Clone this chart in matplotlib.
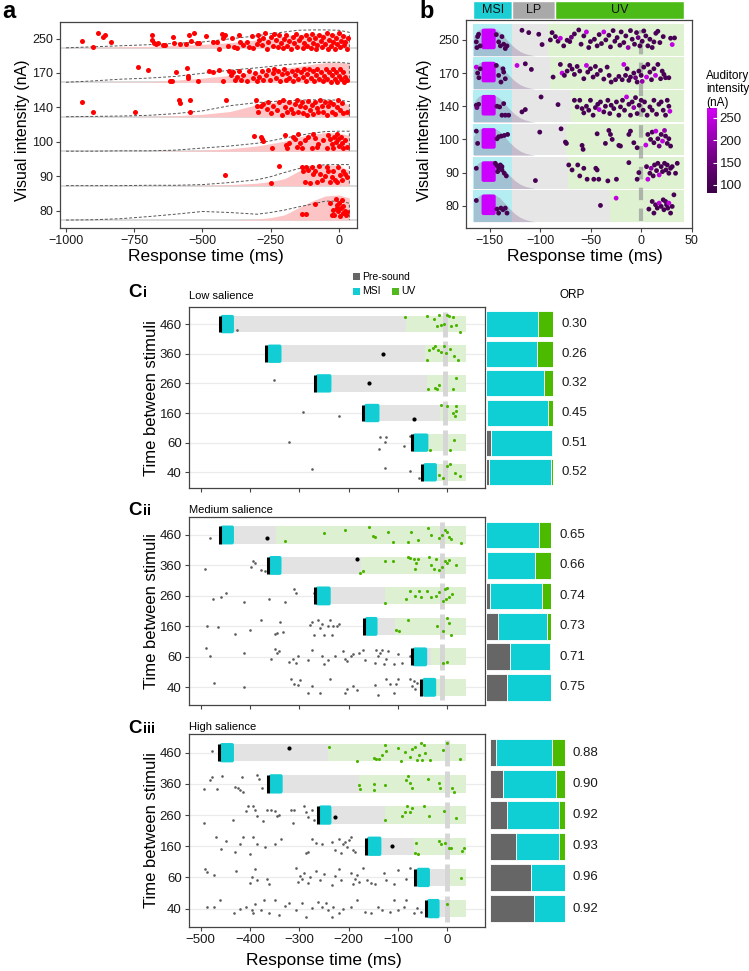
import numpy as np
import matplotlib
matplotlib.use('Agg')
import matplotlib.pyplot as plt
from matplotlib.patches import Rectangle, FancyBboxPatch
from matplotlib.colors import LinearSegmentedColormap, Normalize
from matplotlib.cm import ScalarMappable

plt.rcParams['font.family'] = ['Liberation Sans', 'DejaVu Sans']

# ---------------- panel a: ridges of response times ----------------
a_rows = ['80', '90', '100', '140', '170', '250']
a_grid = [-1000, -900, -800, -700, -600, -500, -400, -300, -250, -200, -150, -100, -50, 0, 38]
a_line_h = [
    [0, .01, .04, .10, .17, .25, .22, .17, .22, .29, .38, .46, .55, .55, .49],
    [0, 0, 0, .01, .01, .03, .09, .17, .26, .38, .49, .55, .61, .61, .61],
    [0, 0, .01, .01, .03, .09, .15, .23, .30, .38, .45, .52, .57, .58, .58],
    [0, .01, .02, .04, .09, .17, .32, .41, .44, .46, .48, .49, .49, .48, .44],
    [0, .04, .09, .12, .17, .26, .35, .42, .46, .51, .54, .57, .58, .58, .55],
    [0, .03, .06, .09, .13, .17, .26, .35, .41, .46, .51, .52, .52, .51, .45],
]
a_fill_h = [
    [0, 0, 0, 0, 0, 0, 0, .03, .07, .15, .35, .55, .70, .73, .64],
    [0, 0, 0, 0, 0, .01, .03, .07, .12, .20, .41, .55, .61, .58, .44],
    [0, 0, 0, 0, .01, .03, .07, .15, .22, .29, .41, .49, .54, .52, .46],
    [0, 0, 0, .01, .03, .07, .15, .35, .41, .44, .45, .45, .45, .44, .35],
    [0, 0, .01, .01, .06, .12, .20, .29, .35, .41, .46, .52, .57, .58, .55],
    [0, .01, .03, .04, .07, .10, .15, .23, .29, .35, .39, .41, .41, .41, .35],
]
a_pts_x = [
    [-137, -121, -88, -33, -21, -17, -11, -6, -2, 1, 4, 6, 10, 13, 16, 22, 26, 31, -9, -25],
    [-416, -220, -250, -137, -131, -125, -121, -112, -106, -100, -94, -88, -82, -72, -63, -51, -39,
     -33, -27, -21, -15, -9, -2, 4, 10, 16, 22, 28, -70, -45],
    [-310, -286, -281, -277, -247, -198, -194, -189, -182, -167, -161, -155, -143, -137, -125, -112,
     -94, -88, -82, -76, -39, -33, -27, -21, -17, -11, -6, -2, 1, 6, 10, 16, 22, 31, -45, -57, -100, -149],
    [-943, -900, -747, -586, -582, -546, -546, -415, -304, -302, -298, -286, -277, -265, -259, -250,
     -241, -228, -219, -210, -204, -198, -189, -182, -176, -167, -161, -155, -149, -143, -137, -131,
     -125, -118, -112, -106, -100, -94, -88, -82, -76, -70, -63, -57, -51, -45, -39, -33, -27, -21,
     -15, -9, -2, 4, 10, 16, 31],
    [-735, -701, -619, -613, -597, -558, -554, -552, -515, -475, -460, -440, -426, -402, -397, -387,
     -381, -372, -365, -360, -350, -338, -328, -316, -308, -299, -292, -283, -277, -267, -259, -253,
     -243, -238, -231, -222, -216, -210, -201, -194, -189, -182, -173, -167, -161, -155, -149, -140,
     -133, -128, -121, -116, -109, -104, -96, -92, -84, -79, -72, -67, -60, -55, -48, -43, -35, -31,
     -26, -21, -15, -11, -6, -1, 4, 9, 13, 18, 23, 31],
    [-943, -900, -884, -863, -857, -835, -686, -684, -678, -670, -662, -643, -637, -609, -603, -582,
     -562, -548, -542, -531, -521, -512, -487, -460, -448, -438, -427, -424, -418, -405, -393, -383,
     -375, -365, -363, -350, -338, -328, -320, -314, -302, -298, -292, -283, -277, -271, -265, -259,
     -250, -243, -238, -231, -225, -219, -214, -206, -201, -194, -189, -182, -177, -170, -165, -158,
     -153, -147, -139, -133, -128, -121, -116, -109, -104, -98, -94, -88, -84, -79, -72, -67, -63,
     -57, -51, -45, -42, -35, -31, -27, -21, -16, -11, -6, -1, 4, 9, 13, 18, 23, 28, 33],
]
a_pts_dy = [
    [.19, .19, .47, .51, .30, .15, .61, .44, .25, .51, .13, .35, .59, .20, .40, .25, .15, .22, .35, .15],
    [.30, .56, .09, .54, .43, .11, .54, .44, .08, .54, .35, .43, .11, .56, .15, .27, .43, .11, .25,
     .43, .17, .11, .54, .30, .15, .43, .35, .25, .35, .54],
    [.44, .42, .34, .30, .10, .46, .17, .10, .24, .42, .34, .13, .24, .08, .32, .42, .51, .37, .13,
     .22, .46, .34, .20, .08, .42, .27, .49, .34, .15, .40, .24, .08, .32, .13, .08, .32, .08, .49],
    [.42, .15, .13, .49, .40, .49, .15, .49, .49, .32, .15, .30, .38, .22, .44, .11, .32, .20, .42,
     .06, .49, .28, .13, .44, .22, .11, .38, .49, .15, .32, .44, .11, .28, .06, .47, .20, .35, .09,
     .44, .24, .13, .49, .32, .15, .42, .06, .30, .44, .15, .38, .09, .28, .49, .20, .40, .11, .15],
    [.44, .36, .05, .05, .29, .41, .19, .13, .05, .34, .29, .37, .05, .34, .22, .29, .07, .16, .34,
     .07, .22, .05, .32, .13, .26, .05, .16, .32, .07, .22, .37, .07, .26, .39, .13, .32, .05, .24,
     .39, .07, .28, .13, .34, .05, .22, .36, .09, .30, .16, .40, .03, .24, .39, .13, .32, .05, .22,
     .38, .09, .29, .03, .18, .40, .09, .30, .01, .20, .38, .09, .30, .01, .18, .40, .09, .30, .01,
     .16, .07],
    [.21, .03, .42, .32, .36, .18, .38, .22, .15, .10, .14, .09, .08, .31, .13, .11, .12, .36, .19,
     .43, .15, .15, .34, .18, .17, -.04, .41, .29, .38, .04, .28, .02, -.01, .38, .17, .09, .16, .03,
     .33, 0, .12, .38, .24, .08, .30, .42, -.02, .17, .32, .06, .40, .22, .03, .38, .13, -.01, .26,
     .38, .05, .20, -.02, .32, .13, .40, .03, .23, .32, -.01, .15, .38, .05, .26, 0, .40, .15, .29,
     -.02, .07, .38, .20, .03, .32, .12, .43, -.02, .24, .05, .36, .16, -.02, .30, .10, .42, .03,
     .21, .34, .07, .17, -.02, .29],
]

# ---------------- panel b: MSI / LP / UV ----------------
b_rows = ['80', '90', '100', '140', '170', '250']
b_strip_lab = ['MSI', 'LP', 'UV']
b_strip_edges = [-166, -128, -85.6, 42.2]
b_msi_end = -128
b_uv_end = 42.2
b_uv_start = [-31.2, -72.8, -74.8, -69.8, -89.9, -92.2]
b_hump_x = [-166, -163, -160, -155, -150, -145, -140, -135, -130, -125, -120, -115, -110, -105]
b_hump_h = [.60, .75, .83, .87, .88, .85, .75, .58, .40, .25, .14, .07, .03, 0]
b_blob_x = [-158, -144]
b_pts_x = [
    [-163.2, -142.7, -141.1, -138.8, -136.8, -134.5, -132.8,
     -40.3, -24.8, 7.6, 10.9, 12.6, 14.2, 15.9, 17.8, 19.8, 21.8, 22.5, 24.1, 25.1, 26.4, 27.4,
     29.1, 30.7, 32.4],
    [-163.2, -144.4, -142.7, -141.1, -139.4, -137.8, -137.8, -135.5, -133.5, -142.1,
     -104.7, -71.7, -68.4, -62.8, -60.8, -56.8, -53.5, -46.9, -44.9, -43.6, -42, -33, -24.5, -12.2,
     -4, -2.3, 5.3, 6.6, 8.6, 9.9, 11.9, 13.2, 15.2, 16.5, 17.8, 19.8, 21.1, 23.1, 24.5, 25.8, 27.4,
     29.1, 30.7, 34, 35.7],
    [-163.2, -161.9, -142.7, -141.1, -138.4, -135.5, -132.2,
     -100.4, -79.3, -75, -74, -58.5, -57.5, -43.6, -35.4, -32, -30.4, -28.7, -22.1, -20.5, -12.2,
     -10.6, -7.3, -4, 4.6, 6.6, 9.3, 10.9, 12.6, 14.5, 16.5, 17.8, 19.8, 21.1, 23.1, 24.1, 25.8,
     27.4, 29.1],
    [-163.2, -162.6, -160.9, -142.7, -140.1, -137.8, -134.5, -131.2, -136.1,
     -114.7, -118, -99.1, -82.3, -66.1, -63.4, -60.8, -58.5, -56.8, -54.2, -51.9, -50.2, -47.6,
     -45.3, -43, -41.6, -40.3, -37, -35.4, -33, -31.1, -29.7, -27.1, -24.5, -22.1, -20.5, -18.5,
     -16.5, -14.5, -12.2, -10.6, -8.9, -7.3, -5.6, -4, -2, 0, 2, 3.3, 5.9, 8.6, 10.9, 12.6, 15.2,
     17.5, 19.8, 21.8, 24.1, 25.8, 27.4, 28.4],
    [-163.2, -161.9, -160.6, -159.3, -141.1, -138.8, -136.8, -136.1, -134.5, -143.4,
     -122.9, -114.7, -108.7, -87.2, -80, -78.3, -76, -73.3, -70.7, -68.4, -66.1, -63.4, -60.8,
     -56.8, -54.2, -52.9, -50.2, -47.6, -45.3, -43.6, -40.3, -37, -33.7, -31.7, -29.7, -25.4,
     -22.1, -18.8, -17.2, -15.5, -13.9, -12.2, -10.6, -7.3, -5.6, -4, -2.3, 0, 1, 2.6, 5.3, 6.6,
     8.6, 10.2, 12.6, 14.2, 16.5, 19.2, 20.8, 22.5, 24.1, 27.4],
    [-163.2, -162.6, -161.9, -160.9, -159.3, -143.4, -141.1, -139.4, -137.8, -136.1, -134.5, -132.8,
     -118, -111.3, -101.4, -98.1, -89.9, -88.2, -84.9, -82.3, -80, -76.7, -73.3, -70.7, -69.1,
     -66.1, -61.8, -59.5, -56.8, -54.2, -51.9, -50.2, -46.3, -43.6, -41.6, -39.3, -37, -35, -32,
     -30.4, -27.8, -26.1, -23.8, -21.1, -19.8, -17.2, -15.2, -12.9, -10.6, -8.9, -6.6, -4.6, -3,
     -1.3, 1, 2.6, 4.6, 6.6, 8.6, 10.9, 12.6, 14.5, 16.5, 18.5, 21.8, 29.1, 33, 30.7],
]
b_pts_dy = [
    [.16, -.10, -.22, -.07, -.12, -.07, -.22,
     .01, .23, -.10, .13, -.22, .03, -.07, .08, -.02, .18, -.12, .13, .03, -.07, .08, -.22, -.02, .33],
    [.13, .28, .21, .13, .23, .18, .08, -.02, -.10, .03,
     -.24, .23, .08, .23, -.10, .13, -.20, -.20, .13, .08, -.20, -.25, -.20, .30, -.20, 0, .18,
     -.20, -.02, .13, -.10, .23, .06, .28, -.07, .18, .03, .28, .08, .23, -.02, .13, .18, -.02, .28],
    [.25, -.12, .02, .08, .10, .12, .15,
     .22, .32, -.08, -.12, -.18, -.30, .17, -.12, .27, .15, 0, -.18, -.20, .15, .25, -.10, -.25,
     -.17, .15, 0, .22, -.10, .25, .02, -.20, .15, -.05, .27, .10, -.12, .02, -.20],
    [.03, -.04, .06, 0, -.02, -.27, -.27, -.27, .08,
     -.10, -.17, .28, .05, .18, -.02, .18, -.07, -.20, 0, -.12, .18, -.27, -.04, .06, -.10, .13,
     -.17, 0, .18, -.22, .03, -.07, .13, -.27, -.02, .18, -.12, .28, .06, -.27, .13, -.04, .26,
     -.22, .03, .18, -.12, .13, -.27, -.02, -.12, .18, -.24, .06, .13, -.12, -.27, .18, 0, -.15],
    [.18, 0, -.14, .13, -.07, -.27, .13, .03, -.17, .23,
     .23, .28, .11, -.12, .26, 0, -.07, .06, .23, .12, -.04, .20, .06, -.17, .23, .03, .13, -.12,
     .20, -.04, .08, -.18, .18, -.07, -.27, -.20, -.10, -.20, .26, -.07, .13, -.22, -.12, 0, -.14,
     -.27, .06, -.07, -.25, .18, -.12, .26, .03, -.20, .13, -.07, .26, -.17, .06, -.04, -.14, -.14],
    [-.06, -.23, .10, .17, -.18, .16, -.06, -.18, .10, -.13, -.26, -.18,
     .29, .22, .17, -.14, 0, .22, .10, -.04, .05, -.18, -.01, -.05, .08, .18, .30, -.13, .12, .24,
     -.23, -.05, .02, -.18, .16, -.11, .24, 0, .14, -.21, .28, -.04, .07, -.16, .24, -.08, .12,
     -.23, .28, .02, -.13, .22, .07, -.18, -.04, .27, .12, -.18, .02, -.23, -.06, .20, .26, -.08,
     .10, .05, .06, -.14],
]
b_pts_aud = [
    [100, 100, 100, 100, 100, 100, 100,
     100, 250, 100, 100, 100, 100, 100, 250, 100, 100, 100, 100, 100, 100, 250, 100, 100, 100],
    [100, 100, 100, 100, 100, 100, 100, 100, 100, 100,
     100, 100, 100, 100, 100, 100, 100, 100, 100, 100, 100, 100, 100, 100, 100, 100, 100, 250,
     100, 200, 100, 100, 100, 100, 250, 100, 100, 100, 100, 100, 100, 100, 100, 100, 100],
    [100, 100, 100, 100, 100, 100, 100,
     100, 100, 100, 100, 100, 100, 100, 100, 100, 100, 100, 100, 100, 100, 100, 100, 100, 250,
     100, 100, 100, 100, 250, 100, 150, 100, 250, 200, 100, 100, 100, 100],
    [100, 150, 100, 100, 100, 100, 100, 100, 100,
     100, 100, 100, 100, 100, 100, 100, 100, 100, 100, 100, 100, 100, 100, 100, 250, 100, 100,
     100, 100, 100, 100, 100, 100, 100, 100, 100, 100, 250, 100, 100, 100, 200, 100, 100, 100,
     100, 100, 100, 100, 100, 100, 100, 100, 100, 100, 100, 100, 100, 100, 250],
    [250, 100, 100, 100, 100, 100, 100, 100, 100, 100,
     250, 100, 100, 100, 100, 250, 100, 100, 100, 100, 100, 100, 100, 100, 250, 100, 100, 100,
     100, 100, 100, 100, 100, 100, 100, 100, 100, 100, 250, 100, 100, 100, 100, 100, 150, 100,
     100, 100, 200, 100, 250, 100, 100, 100, 100, 250, 100, 100, 100, 100, 100, 100],
    [100, 100, 100, 100, 100, 100, 100, 100, 100, 100, 100, 100,
     100, 100, 100, 100, 100, 100, 100, 100, 250, 100, 100, 100, 150, 100, 100, 100, 100, 250,
     100, 100, 100, 100, 100, 100, 250, 100, 100, 100, 100, 100, 100, 100, 100, 100, 100, 200,
     100, 100, 100, 100, 150, 100, 100, 100, 100, 100, 100, 100, 100, 100, 100, 100, 100, 100,
     100, 250],
]

# ---------------- panel c: time between stimuli ----------------
c_rows = ['460', '360', '260', '160', '60', '40']
c_band_end = 37
c_titles = ['Low salience', 'Medium salience', 'High salience']
c_roman = ['i', 'ii', 'iii']
c_vline = [-5.5, -11, -1.5]

ci_onset = [-461.8, -367, -269, -170.8, -72.7, -51.3]
ci_msi_end = [-432.5, -336, -234.8, -137.5, -38.7, -21.3]
ci_uv_start = [-84.6, -45, -41.1, -15, -38.7, -21.3]
ci_dot_x = [np.nan, -130.4, -158.1, -68.7, np.nan, np.nan]
ci_dot_dy = [0, 0, 0, -.19, 0, 0]
ci_gray_x = [[-426], [], [-351.1], [-292.5, -219],
             [-321.8, -138.3, -136, -126.5, -124.1, -88.5, -76.6], [-274.3, -125.7, -76.6, -58.5]]
ci_gray_dy = [[-.19], [], [.11], [.02, -.09], [.02, -.20, .19, .02, .19, -.12, .21], [.11, .13, .06, -.20]]
ci_green_x = [[-86.1, -41.1, -27.6, -21.3, -17.3, -13.4, -7.1, -1.5, 2.4, 6.4, 10.3, 16.7, 26.2],
              [-41.1, -37.1, -29.2, -25.3, -19.7, -13.4, -7.9, -3.1, 4.8, 12.7, 22.2],
              [-39.5, -25.3, -17.3, -21.3, 10.3, 16.7],
              [-13.4, 0, 10.3, 16.7, 18.2, 14.3],
              [-35.5, 12.7, 4.8],
              [-17.3, -1.5, 14.3, 4.8, 26.2, -9.4]]
ci_green_dy = [[.24, .28, .17, -.08, .31, -.02, .01, .31, .26, -.08, .24, -.02, -.28],
               [-.20, .11, .20, .25, .13, .06, .25, .02, .17, -.09, -.20],
               [-.18, -.15, -.07, -.20, -.20, .18],
               [.26, .22, 0, .25, .06, -.11],
               [-.24, .10, -.26],
               [-.09, .21, -.01, .28, -.11, -.20]]
ci_pre = [0, 0, 0, .02, .08, .04]
ci_msi = [.78, .76, .87, .91, .91, .93]
ci_uv = [.22, .24, .13, .07, .01, .03]
ci_orp = ['0.30', '0.26', '0.32', '0.45', '0.51', '0.52']

cii_onset = [-461.8, -363.7, -268.8, -169.2, -72.7, -52.9]
cii_msi_end = [-432.5, -336, -236.4, -141.5, -41.1, -22.9]
cii_uv_start = [-347.1, -175.5, -126.5, -106.7, -33.1, -22.9]
cii_dot_x = [-365.3, -183.4, np.nan, np.nan, np.nan, np.nan]
cii_dot_dy = [-.09, .20, 0, 0, 0, 0]
cii_gray_x = [
    [-481.5],
    [-491.8, -398.5, -393, -390.6, -377.2, -369.2],
    [-474.4, -457.8, -448.3, -412.7, -361.3, -329.7, -309.9, -306, -270.4],
    [-487.9, -465.7, -430.1, -400.9, -377.2, -349.5, -345.5, -340, -333.7, -278.3, -274.3, -270.4,
     -262.5, -258.5, -254.6, -250.6, -242.7, -238.8, -234.8, -230.9, -223, -219],
    [-489.4, -481.5, -412.7, -357.4, -349.5, -345.5, -341.6, -321.8, -313.9, -306, -302, -282.3,
     -274.3, -254.6, -250.6, -242.7, -226.9, -211.1, -207.1, -203.2, -195.3, -191.3, -179.5, -171.5,
     -167.6, -147.8, -143.9, -139.9, -136, -132, -128.1, -124.1, -120.1, -108.3, -100.4, -92.5, -76.6],
    [-472.1, -412.7, -317.8, -309.9, -302, -298.1, -282.3, -274.3, -258.5, -238.8, -207.1, -203.2,
     -191.3, -183.4, -147.8, -139.9, -124.1, -116.2, -108.3, -104.3, -100.4, -76.6, -72.7, -68.7,
     -64.8, -60.8],
]
cii_gray_dy = [
    [-.11],
    [-.13, -.04, .14, .09, -.15, -.18],
    [-.11, -.02, .11, -.20, -.09, -.20, .24, .11, .09],
    [0, -.02, -.24, -.13, .22, -.24, -.22, .13, -.20, .05, .13, -.27, .22, -.05, .09, -.27, 0, .22,
     -.27, 0, 0, .09],
    [.29, .04, .13, -.07, .26, .13, .18, -.17, -.07, -.20, .04, -.09, .24, .04, -.25, -.09, .02, .18,
     -.07, -.14, .02, .08, .13, .22, -.09, -.20, .22, .04, .13, .24, -.25, -.07, .18, -.25, .11, -.20, .04],
    [.15, .02, .28, .12, .08, .25, -.18, .05, -.18, .28, -.18, -.05, .05, -.08, .08, -.25, .28, .10,
     -.20, .12, .28, .28, .05, .20, -.05, .15],
]
cii_green_x = [
    [-329.7, -250.6, -207.1, -159.7, -150.2, -147.8, -120.1, -109.9, -80.6, -74.3, -59.3, -38.7,
     -33.1, -17.3, -11.8, -5.5, -1.5, 2.4, 6.4, 27.7],
    [-177.1, -171.5, -125.7, -109.9, -80.6, -75.1, -68.7, -63.2, -59.3, -64.8, -37.1, -33.1, -27.6,
     -23.7, -17.3, -11.8, -5.5, 0, 2.4, 18.2],
    [-126.5, -84.6, -76.6, -64.8, -56.9, -52.9, -41.1, -33.1, -23.7, -17.3, -9.4, -5.5, -1.5, 2.4, 8.8, -3.9],
    [-104.3, -98.8, -80.6, -21.3, -9.4, -1.5, 4, 8],
    [-9.4, -1.5],
    [],
]
cii_green_dy = [
    [-.20, .05, .16, .25, -.03, -.08, .11, -.22, -.22, .11, -.18, .22, 0, -.11, 0, .16, .11, -.05, -.14, -.25],
    [-.26, -.18, .14, .14, .28, .25, .22, .09, .20, -.11, .28, 0, -.11, .20, -.15, -.04, .14, .09, .17, 0],
    [-.24, -.09, .16, 0, .16, -.02, .16, -.05, 0, .13, -.16, .22, .27, -.02, .05, -.11],
    [-.11, -.16, .20, .02, -.16, .27, .11, -.27],
    [-.20, -.17],
    [],
]
cii_pre = [0, .02, .07, .19, .37, .33]
cii_msi = [.81, .74, .79, .75, .62, .67]
cii_uv = [.19, .24, .14, .06, .01, 0]
cii_orp = ['0.65', '0.66', '0.74', '0.73', '0.71', '0.75']

ciii_onset = [-463.4, -363.7, -262.5, -165.2, -64.8, -43.5]
ciii_msi_end = [-432.5, -333.7, -234.8, -133.6, -35.5, -15.8]
ciii_uv_start = [-241.4, -179.5, -125.7, -68.7, -1.5, -1.5]
ciii_dot_x = [-321.8, np.nan, -226.9, -112.2, np.nan, np.nan]
ciii_dot_dy = [.16, 0, -.06, 0, 0, 0]
ciii_gray_x = [
    [-476],
    [-494.2, -481.5, -476, -466.5, -456.2, -430.1, -424.6, -420.6, -416.7, -415.1, -386.6, -381.1, -375.6],
    [-494.2, -434.1, -408.8, -404.8, -393, -389, -385.1, -373.2, -365.3, -357.4, -349.5, -345.5,
     -341.6, -317.8, -313.9, -309.9, -290.2, -286.2, -282.3, -274.3, -270.4],
    [-468.1, -457.8, -448.3, -430.9, -420.6, -415.1, -400.9, -393, -385.1, -369.2, -349.5, -337.6,
     -286.2, -282.3, -274.3, -266.4, -254.6, -234.8, -226.9, -219, -215, -211.1, -207.1, -203.2,
     -199.2, -195.3, -191.3, -187.4],
    [-491.8, -487.9, -472.1, -428.6, -400.9, -396.9, -389, -385.1, -365.3, -361.3, -306, -302, -298.1,
     -294.1, -290.2, -282.3, -278.3, -266.4, -258.5, -250.6, -234.8, -226.9, -219, -215, -195.3,
     -191.3, -187.4, -183.4, -179.5, -171.5, -163.6, -155.7, -147.8, -128.1, -124.1, -108.3, -100.4,
     -84.6, -76.6],
    [-487.9, -472.1, -460.2, -432.5, -420.6, -408.8, -396.9, -393, -389, -377.2, -370.8, -361.3,
     -349.5, -341.6, -329.7, -321.8, -306, -294.1, -286.2, -274.3, -262.5, -254.6, -246.7, -242.7,
     -234.8, -230.9, -219, -211.1, -195.3, -183.4, -167.6, -155.7, -139.9, -132, -116.2, -108.3,
     -100.4, -88.5, -84.6, -68.7, -60.8, -52.9],
]
ciii_gray_dy = [
    [.06],
    [-.16, .14, .21, -.16, .25, -.10, -.13, -.20, .21, -.27, .28, .16, -.13],
    [-.26, -.17, .12, .28, .28, .15, -.04, -.20, .15, .15, .12, -.04, .01, .17, -.26, .15, .28, .09,
     -.06, .17, -.15],
    [.29, -.10, .18, -.20, .07, .29, -.25, .31, .07, -.01, .07, .22, -.22, -.17, .22, .10, .07, .15,
     -.12, .22, -.22, .07, .15, -.01, .20, .31, -.12, -.20],
    [.26, .18, .07, .21, -.19, .02, .26, -.09, -.06, -.21, .29, -.14, .04, -.06, .15, -.17, 0, .21,
     -.09, .11, -.25, .04, .26, -.09, .13, -.21, -.06, .07, -.14, .29, -.09, -.17, -.21, .13, -.09,
     -.21, .24, -.06, .29],
    [.06, .06, .26, -.15, -.02, .06, -.04, -.15, .15, -.04, .28, -.15, .28, -.20, .09, .17, -.04, .19,
     -.26, .01, .22, .06, .17, -.04, -.28, .06, -.15, -.02, .04, .28, -.10, -.15, .06, -.04, -.10,
     .28, -.04, .06, .28, -.15, .01, -.10],
]
ciii_green_x = [
    [-240.3, -183.4, -149.4, -143.9, -138.3, -132, -125.7, -124.1, -100.4, -94.1, -86.1, -76.6,
     -71.1, -64.8, -60.8, -56.9, -54.5, -51.3, -47.4, -45, -35.5, -9.4, -1.5, 24.6],
    [-179.5, -177.9, -149.4, -149.4, -126.5, -84.6, -80.6, -76.6, -72.7, -38.7, -17.3, -15, 8.8, 12.7],
    [-125.7, -92.5, -87, -83, -76.6, -72.7, -46.6, -37.1, -7.1, 18.2],
    [-63.2, -59.3, -17.3, -13.4, -5.5, 2.4, 8, 30.1, 34.1, -64.8],
    [27.7],
    [0],
]
ciii_green_dy = [
    [.19, -.27, -.18, -.20, -.20, -.07, .25, .06, .14, -.26, .03, -.13, .11, .19, -.24, -.07, .32,
     -.24, .25, 0, -.24, .09, .30, -.20],
    [-.02, -.16, .01, -.20, -.05, .14, .25, .03, -.13, .16, .03, -.13, -.13, -.27],
    [-.15, -.02, .09, .28, .09, .22, .28, -.04, .12, -.10],
    [.12, -.25, .18, .07, .12, -.06, -.06, -.14, -.06, -.22],
    [-.03],
    [.15],
]
ciii_pre = [.08, .18, .23, .35, .55, .59]
ciii_msi = [.75, .70, .70, .58, .45, .41]
ciii_uv = [.17, .12, .07, .07, 0, 0]
ciii_orp = ['0.88', '0.90', '0.92', '0.93', '0.96', '0.92']

# colours
red = '#ff0000'
pink = '#fcc4c4'
cyan = '#12cdd4'
green = '#4cb400'
dgray = '#666666'
msi_band = '#b5eef2'
lp_band = '#e6e6e6'
uv_band = '#def2d2'

W, H = 749, 971


def box(left, top, right, bottom):
    return [left / W, 1 - bottom / H, (right - left) / W, (bottom - top) / H]


def ftext(x, y, s, **kw):
    fig.text(x / W, 1 - y / H, s, **kw)


def frect(left, top, right, bottom, color):
    fig.add_artist(Rectangle((left / W, 1 - bottom / H), (right - left) / W, (bottom - top) / H,
                             transform=fig.transFigure, color=color, lw=0))


def style(ax, size=9):
    for s in ax.spines.values():
        s.set_color('#444444')
        s.set_linewidth(0.9)
    ax.tick_params(colors='#444444', labelcolor='#1a1a1a', labelsize=size, length=3, width=0.8, pad=2)


fig = plt.figure(figsize=(7.49, 9.71), dpi=100)

# ---- a ----
ax = fig.add_axes(box(60, 22, 357, 228))
ax.set_xlim(-1022, 66)
ax.set_ylim(-0.23, 5.75)
for k in range(6):
    ax.axhline(k, color='#d9d9d9', lw=1.3, zorder=1)
for k in range(5, -1, -1):
    ax.fill_between(a_grid, k, k + np.array(a_fill_h[k]), color=pink, lw=0, zorder=2)
    lx = a_grid + [a_grid[-1]]
    ly = list(k + np.array(a_line_h[k])) + [k]
    ax.plot(lx, ly, color='#555555', lw=0.7, ls=(0, (3, 2)), zorder=3)
    ax.scatter(a_pts_x[k], k + np.array(a_pts_dy[k]), s=13, color=red, lw=0, zorder=4)
ax.set_xticks([-1000, -750, -500, -250, 0])
ax.set_yticks([k + 0.27 for k in range(6)])
ax.set_yticklabels(a_rows)
style(ax)
ftext(23, 130, 'Visual intensity (nA)', rotation=90, ha='center', va='center', fontsize=11.5)
ftext(206, 256, 'Response time (ms)', ha='center', va='center', fontsize=12.5)
ftext(2, 12, 'a', fontsize=17, fontweight='bold', va='center', ha='left')

# ---- b ----
cmap = LinearSegmentedColormap.from_list('aud', ['#3a0044', '#7d0092', '#d400f8'])
norm = Normalize(vmin=82, vmax=272)
ax = fig.add_axes(box(466, 20, 692, 228))
ax.set_xlim(-173.4, 50.3)
ax.set_ylim(-0.67, 5.6)
for k in range(6):
    y0 = k - 0.48
    ax.add_patch(Rectangle((b_strip_edges[0], y0), b_msi_end - b_strip_edges[0], 0.96, color=msi_band, lw=0, zorder=1))
    ax.add_patch(Rectangle((b_msi_end, y0), b_uv_start[k] - b_msi_end, 0.96, color=lp_band, lw=0, zorder=1))
    ax.add_patch(Rectangle((b_uv_start[k], y0), b_uv_end - b_uv_start[k], 0.96, color=uv_band, lw=0, zorder=1))
    ax.fill_between(b_hump_x, y0, y0 + 0.96 * np.array(b_hump_h), color='#6a3d7a', alpha=0.25, lw=0, zorder=2)
    ax.add_patch(FancyBboxPatch((b_blob_x[0], k - 0.28), b_blob_x[1] - b_blob_x[0], 0.62,
                                boxstyle='round,pad=0,rounding_size=2', mutation_aspect=0.03,
                                fc='#cc00ff', ec='none', zorder=3))
ax.plot([0, 0], [-0.47, 5.3], color='#8c8c8c', alpha=0.6, lw=3, dashes=(3, 2), zorder=2)
for k in range(6):
    ax.scatter(b_pts_x[k], k + np.array(b_pts_dy[k]), s=12, c=b_pts_aud[k], cmap=cmap, norm=norm,
               lw=0, zorder=4)
ax.set_xticks([-150, -100, -50, 0, 50])
ax.set_yticks(range(6))
ax.set_yticklabels(b_rows)
style(ax)
ftext(424, 130, 'Visual intensity (nA)', rotation=90, ha='center', va='center', fontsize=11.5)
ftext(585, 256, 'Response time (ms)', ha='center', va='center', fontsize=12.5)
ftext(419, 12, 'b', fontsize=17, fontweight='bold', va='center', ha='left')

sx = fig.add_axes(box(466, 1, 692, 19))
sx.set_xlim(-173.4, 50.3)
sx.set_ylim(0, 1)
sx.axis('off')
for lab, x0, x1, col in zip(b_strip_lab, b_strip_edges[:-1], b_strip_edges[1:], ['#1ccdd3', '#a9a9a9', '#4cbb17']):
    sx.add_patch(Rectangle((x0, 0), x1 - x0, 1, fc=col, ec='white', lw=1))
    sx.text((x0 + x1) / 2, 0.5, lab, ha='center', va='center', fontsize=9, color='#111111')

cax = fig.add_axes(box(707, 108, 717, 193))
cb = fig.colorbar(ScalarMappable(norm=norm, cmap=cmap), cax=cax)
cb.set_ticks([100, 150, 200, 250])
cb.outline.set_visible(False)
cax.tick_params(length=3, color='white', width=0.8, direction='in', labelsize=9.5, pad=2, labelcolor='#1a1a1a')
ftext(706, 70, 'Auditory\nintensity\n(nA)', ha='left', va='top', fontsize=8.5, linespacing=1.15)

# ---- c ----
c_axes = [box(188.8, 307.5, 485, 488), box(188.8, 516.7, 485, 705), box(188.8, 734, 485, 927)]
c_bars = [(486, 553), (485.7, 551), (489.6, 564.6)]
c_ylim = [(-0.53, 5.56), (-0.58, 5.6), (-0.59, 5.6)]
c_tops = [307.5, 516.7, 734]
c_bottoms = [488, 705, 927]
c_lab_base = [297, 515, 733]
c_title_y = [296, 510, 727]
c_data = [
    (ci_onset, ci_msi_end, ci_uv_start, ci_dot_x, ci_dot_dy, ci_gray_x, ci_gray_dy, ci_green_x, ci_green_dy,
     ci_pre, ci_msi, ci_uv, ci_orp),
    (cii_onset, cii_msi_end, cii_uv_start, cii_dot_x, cii_dot_dy, cii_gray_x, cii_gray_dy, cii_green_x,
     cii_green_dy, cii_pre, cii_msi, cii_uv, cii_orp),
    (ciii_onset, ciii_msi_end, ciii_uv_start, ciii_dot_x, ciii_dot_dy, ciii_gray_x, ciii_gray_dy,
     ciii_green_x, ciii_green_dy, ciii_pre, ciii_msi, ciii_uv, ciii_orp),
]

for p in range(3):
    onset, msi_end, uv_start, dot_x, dot_dy, gray_x, gray_dy, green_x, green_dy, pre, msi, uv, orp = c_data[p]
    ax = fig.add_axes(c_axes[p])
    ax.set_xlim(-524, 76)
    ax.set_ylim(*c_ylim[p])
    for i in range(6):
        y = 5 - i
        ax.axhline(y, color='#ebebeb', lw=0.9, zorder=0)
        if uv_start[i] > msi_end[i]:
            ax.add_patch(Rectangle((msi_end[i], y - 0.28), uv_start[i] - msi_end[i], 0.56, color='#e3e3e3', lw=0, zorder=1))
        ax.add_patch(Rectangle((uv_start[i], y - 0.28), c_band_end - uv_start[i], 0.56, color='#ddf0d2', lw=0, zorder=1))
        ax.plot([c_vline[p], c_vline[p]], [y - 0.42, y + 0.42], color='#d6d6d6', lw=3.5, solid_capstyle='butt', zorder=2)
        ax.scatter(gray_x[i], y + np.array(gray_dy[i]), s=3.5, color='#5a5a5a', lw=0, zorder=3)
        ax.scatter(green_x[i], y + np.array(green_dy[i]), s=5, color=green, lw=0, zorder=3)
        ax.add_patch(FancyBboxPatch((onset[i] + 2.5, y - 0.31), msi_end[i] - onset[i] - 2.5, 0.62,
                                    boxstyle='round,pad=0,rounding_size=4', mutation_aspect=0.016,
                                    fc=cyan, ec='none', zorder=4))
        ax.plot([onset[i], onset[i]], [y - 0.28, y + 0.28], color='black', lw=2.2, solid_capstyle='butt', zorder=5)
        if not np.isnan(dot_x[i]):
            ax.scatter([dot_x[i]], [y + dot_dy[i]], s=9, color='black', lw=0, zorder=4)
    ax.set_xticks([-500, -400, -300, -200, -100, 0])
    if p < 2:
        ax.set_xticklabels([])
    ax.set_yticks([5 - i for i in range(6)])
    ax.set_yticklabels(c_rows)
    style(ax, 9.5)
    ftext(151, (c_tops[p] + c_bottoms[p]) / 2, 'Time between stimuli', rotation=90, ha='center',
          va='center', fontsize=12)
    ftext(189, c_title_y[p], c_titles[p], ha='left', va='center', fontsize=8)
    ftext(128, c_lab_base[p], 'C', ha='left', va='baseline', fontsize=13.5, fontweight='bold')
    ftext(143, c_lab_base[p], c_roman[p], ha='left', va='baseline', fontsize=10.5, fontweight='bold')

    bl, br = c_bars[p]
    bx = fig.add_axes(box(bl, c_tops[p], br, c_bottoms[p]))
    bx.set_xlim(0, 1)
    bx.set_ylim(*c_ylim[p])
    bx.axis('off')
    ys = [5 - i for i in range(6)]
    bx.barh(ys, pre, height=0.88, color=dgray, edgecolor='white', lw=0.6)
    bx.barh(ys, msi, left=pre, height=0.88, color='#0fcfd4', edgecolor='white', lw=0.6)
    bx.barh(ys, uv, left=np.array(pre) + np.array(msi), height=0.88, color='#4cbb00', edgecolor='white', lw=0.6)
    for y, t in zip(ys, orp):
        bx.text(1 + 8 / (br - bl), y, t, ha='left', va='center', fontsize=9.5, color='#1a1a1a', clip_on=False)

ftext(324, 960, 'Response time (ms)', ha='center', va='center', fontsize=12.5)
ftext(572, 295, 'ORP', ha='center', va='center', fontsize=8.5)

# legend of panel c
frect(353, 273, 360, 280, dgray)
ftext(362, 276.5, 'Pre-sound', ha='left', va='center', fontsize=7.5)
frect(353, 288, 360, 295, cyan)
ftext(362, 291.5, 'MSI', ha='left', va='center', fontsize=7.5)
frect(392, 288, 399, 295, '#52b820')
ftext(401, 291.5, 'UV', ha='left', va='center', fontsize=7.5)

fig.savefig('out.png', dpi=100)
